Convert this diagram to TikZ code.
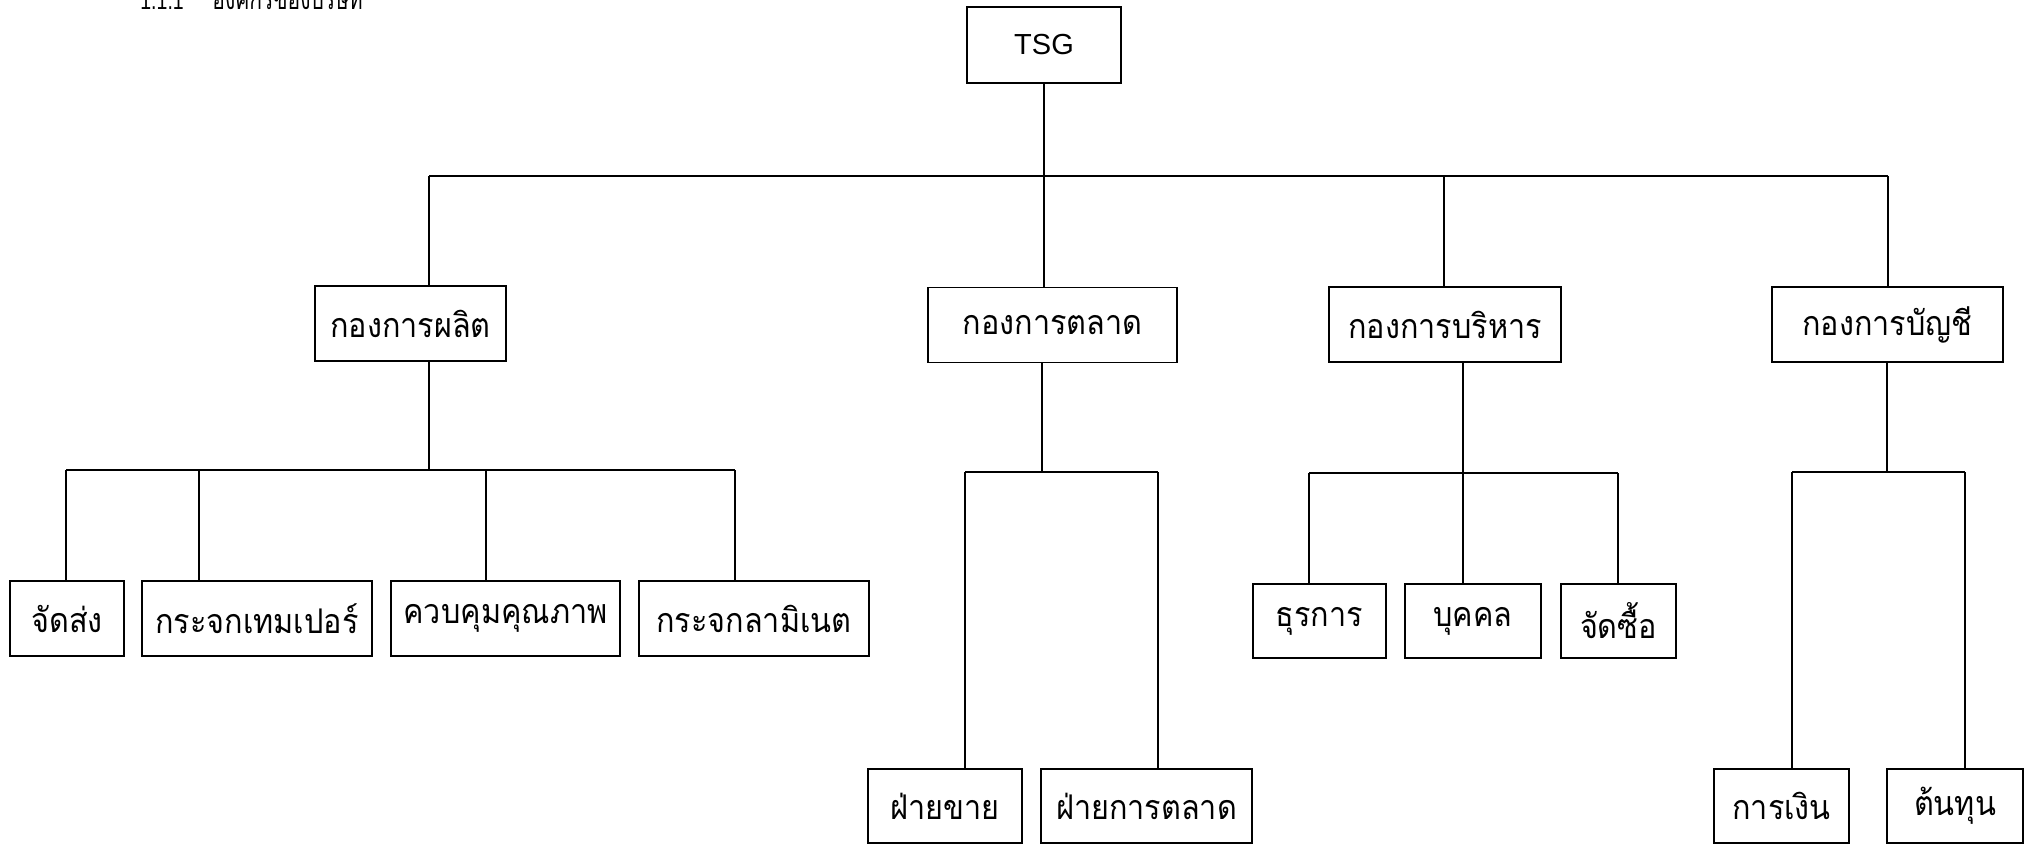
\documentclass[tikz,border=0pt]{standalone}
\usepackage{fontspec}
\newfontfamily\thai[Script=Thai,FakeStretch=0.9]{Loma}
\newfontfamily\thaihead[Script=Thai,FakeStretch=0.75]{Loma}
\newfontfamily\lat{Liberation Sans}
\newfontfamily\latnarrow[FakeStretch=0.75]{Liberation Sans}
\begin{document}
\begin{tikzpicture}[x=0.5pt,y=-0.5pt,
  bx/.style={draw, line width=0.9pt, inner sep=0pt, minimum height=37.5pt,
    font=\thai\fontsize{17}{20}\selectfont},
  ln/.style={line width=0.8pt}]
\fill[white] (0,0) rectangle (2034,845);
\useasboundingbox (0,0) rectangle (2034,845);
% heading (cut off at the top, as in the scan)
\node[anchor=base west, inner sep=0pt, font=\latnarrow\fontsize{13}{15}\selectfont] (h1) at (140,10) {1.1.1};
\node[anchor=base west, inner sep=0pt, font=\thaihead\fontsize{14}{16}\selectfont] (h2) at (212,10) {องค์กรของบริษัท};
% level 1
\node[bx, font=\lat\fontsize{14.5}{17}\selectfont, minimum width=77pt, minimum height=38pt] (tsg) at (1044,45) {TSG};
% level 2
\node[bx, minimum width=95.5pt] (p1) at (410.5,323.5) {กองการผลิต};
\node[bx, minimum width=124.5pt] (p2) at (1052.5,325) {กองการตลาด};
\node[bx, minimum width=116pt] (p3) at (1445,324.5) {กองการบริหาร};
\node[bx, minimum width=115.5pt] (p4) at (1887.5,324.5) {กองการบัญชี};
% level 3
\node[bx, minimum width=57pt] (a1) at (67,618.5) {จัดส่ง};
\node[bx, minimum width=115pt] (a2) at (257,618.5) {กระจกเทมเปอร์};
\node[bx, minimum width=114.5pt] (a3) at (505.5,618.5) {ควบคุมคุณภาพ};
\node[bx, minimum width=115pt] (a4) at (754,618.5) {กระจกลามิเนต};
\node[bx, minimum width=66.5pt, minimum height=37pt] (b1) at (1319.5,621) {ธุรการ};
\node[bx, minimum width=68pt, minimum height=37pt] (b2) at (1473,621) {บุคคล};
\node[bx, minimum width=57.5pt, minimum height=37pt] (b3) at (1618.5,621) {จัดซื้อ};
\node[bx, minimum width=77pt, minimum height=37pt] (c1) at (945,806) {ฝ่ายขาย};
\node[bx, minimum width=105.5pt, minimum height=37pt] (c2) at (1146.5,806) {ฝ่ายการตลาด};
\node[bx, minimum width=67.5pt, minimum height=37pt] (d1) at (1781.5,806) {การเงิน};
\node[bx, minimum width=68pt, minimum height=37pt] (d2) at (1955,806) {ต้นทุน};
% main bus
\coordinate (busL) at (429,176);
\coordinate (busR) at (1888,176);
\coordinate (j3) at (1444,176);
\draw[ln] (busL) -- (busR);
\draw[ln] (tsg.south) -- (tsg.south |- p2.north);
\draw[ln] (busL) -- (busL |- p1.north);
\draw[ln] (j3) -- (j3 |- p3.north);
\draw[ln] (busR) -- (busR |- p4.north);
% production
\coordinate (s1) at (429,470);
\coordinate (s1L) at (66,470);
\coordinate (s1b) at (199,470);
\coordinate (s1c) at (486,470);
\coordinate (s1R) at (735,470);
\draw[ln] (s1 |- p1.south) -- (s1);
\draw[ln] (s1L) -- (s1R);
\draw[ln] (s1L) -- (s1L |- a1.north);
\draw[ln] (s1b) -- (s1b |- a2.north);
\draw[ln] (s1c) -- (s1c |- a3.north);
\draw[ln] (s1R) -- (s1R |- a4.north);
% marketing
\coordinate (s2) at (1042,472);
\coordinate (s2L) at (965,472);
\coordinate (s2R) at (1158,472);
\draw[ln] (s2 |- p2.south) -- (s2);
\draw[ln] (s2L) -- (s2R);
\draw[ln] (s2L) -- (s2L |- c1.north);
\draw[ln] (s2R) -- (s2R |- c2.north);
% administration
\coordinate (s3) at (1463,473);
\coordinate (s3L) at (1309,473);
\coordinate (s3R) at (1618,473);
\draw[ln] (s3 |- p3.south) -- (s3);
\draw[ln] (s3L) -- (s3R);
\draw[ln] (s3L) -- (s3L |- b1.north);
\draw[ln] (s3) -- (s3 |- b2.north);
\draw[ln] (s3R) -- (s3R |- b3.north);
% accounting
\coordinate (s4) at (1887,472);
\coordinate (s4L) at (1792,472);
\coordinate (s4R) at (1965,472);
\draw[ln] (s4 |- p4.south) -- (s4);
\draw[ln] (s4L) -- (s4R);
\draw[ln] (s4L) -- (s4L |- d1.north);
\draw[ln] (s4R) -- (s4R |- d2.north);
\end{tikzpicture}
\end{document}
